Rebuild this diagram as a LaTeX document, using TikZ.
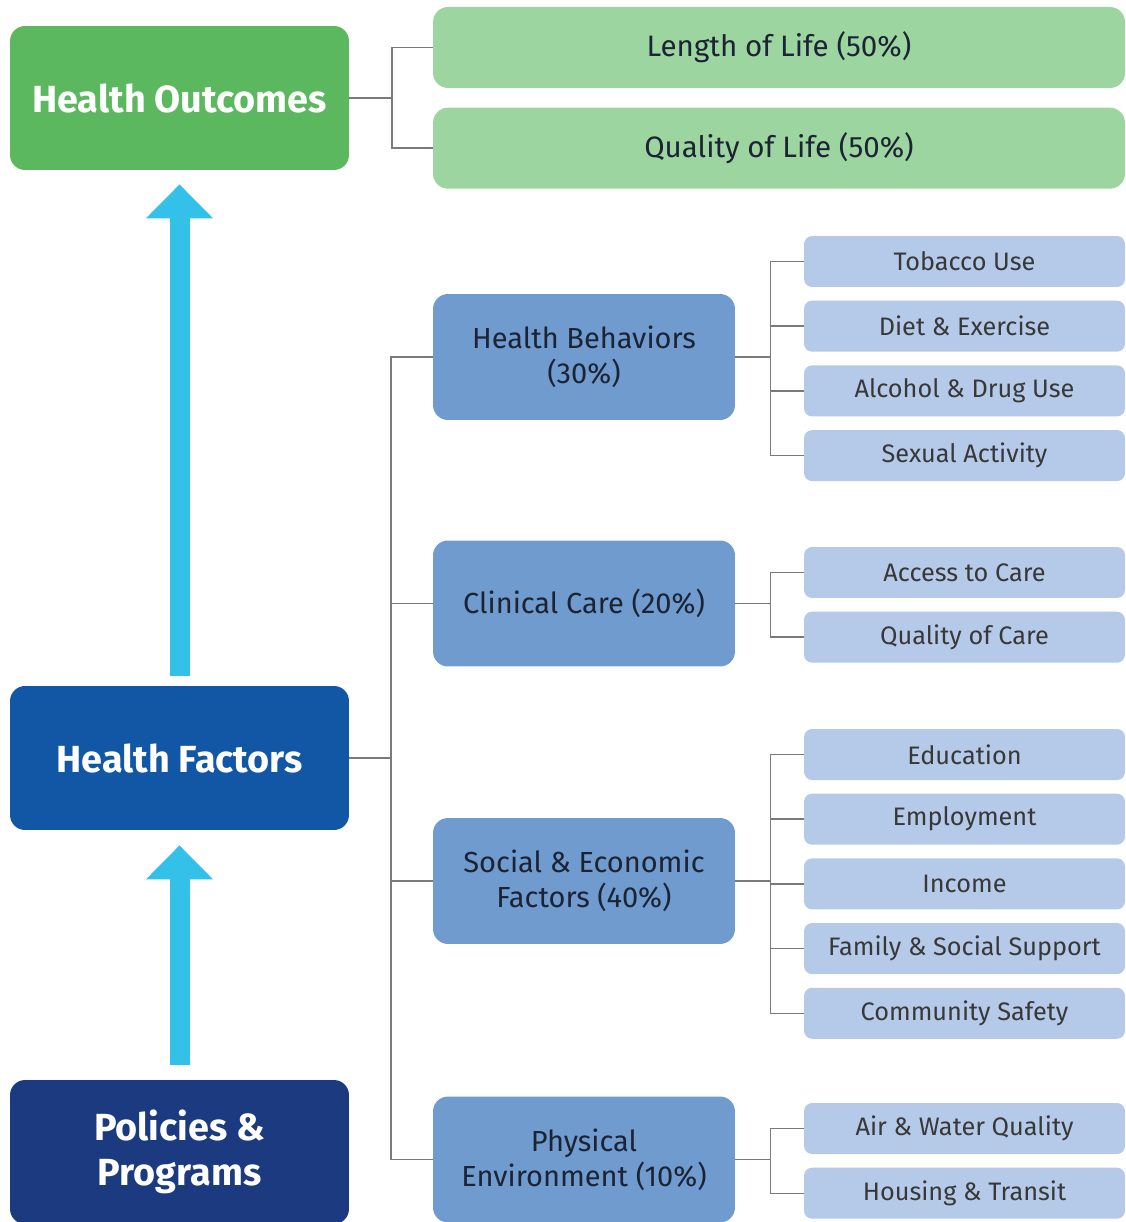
\documentclass[tikz,border=0pt]{standalone}
\usepackage{fontspec}
\setmainfont{Fira Sans}
\usetikzlibrary{arrows.meta,positioning}
\definecolor{OutGreen}{HTML}{5CB85F}
\definecolor{LightGreen}{HTML}{9DD5A0}
\definecolor{FactorBlue}{HTML}{1157A6}
\definecolor{PolicyNavy}{HTML}{1B3A80}
\definecolor{MidBlue}{HTML}{6F9BCF}
\definecolor{PaleBlue}{HTML}{B5CAE8}
\definecolor{ArrowCyan}{HTML}{33C1E9}
\definecolor{LinkGrey}{HTML}{7A7A7A}
\definecolor{InkDark}{HTML}{1C2333}

\begin{document}
\begin{tikzpicture}[
  x=0.02cm,y=-0.02cm,
  every node/.style={align=center,inner sep=0pt},
  big/.style={rounded corners=3mm,fill=#1,text=white,minimum width=6.78cm,minimum height=2.88cm,font=\fontsize{21.5}{25.5}\selectfont\bfseries},
  outbox/.style={rounded corners=3mm,fill=LightGreen,text=InkDark,minimum width=13.84cm,minimum height=1.62cm,font=\fontsize{16.8}{19}\selectfont},
  factor/.style={rounded corners=3mm,fill=MidBlue,text=InkDark,minimum width=6.04cm,minimum height=2.52cm,font=\fontsize{16.5}{20}\selectfont},
  leaf/.style={rounded corners=1.6mm,fill=PaleBlue,text=black!78,minimum width=6.42cm,minimum height=1.02cm,font=\fontsize{14.4}{17}\selectfont},
  link/.style={draw=LinkGrey,line width=0.8pt},
  uparrow/.style={-{Triangle[width=1.3cm,length=0.68cm]},line width=0.4cm,draw=ArrowCyan}
]
\useasboundingbox (0,0) rectangle (1125,1222);

% left column
\node[big=OutGreen] (HO) at (179.5,98) {Health Outcomes};
\node[big=FactorBlue] (HF) at (179.5,758) {Health Factors};
\node[big=PolicyNavy] (PP) at (179.5,1152) {Policies \&\\Programs};

\draw[uparrow,shorten <=0.2cm,shorten >=0.28cm] (HF) -- (HO);
\draw[uparrow,shorten <=0.3cm,shorten >=0.3cm] (PP) -- (HF);

% outcomes
\node[outbox] (LoL) at (779,47.5) {Length of Life (50\%)};
\node[outbox,below=0.38cm of LoL] (QoL) {Quality of Life (50\%)};

% factors
\node[factor] (HB) at (584,357) {Health Behaviors\\(30\%)};
\node[factor] (CC) at (584,603.5) {Clinical Care (20\%)};
\node[factor] (SE) at (584,881) {Social \& Economic\\Factors (40\%)};
\node[factor] (PE) at (584,1159.5) {Physical\\Environment (10\%)};

% behaviours
\node[leaf] (tob) at (964.5,261.5) {Tobacco Use};
\node[leaf,below=0.26cm of tob] (diet) {Diet \& Exercise};
\node[leaf,below=0.26cm of diet] (drug) {Alcohol \& Drug Use};
\node[leaf,below=0.26cm of drug] (sex) {Sexual Activity};

% clinical
\node[leaf] (access) at (964.5,572.5) {Access to Care};
\node[leaf,below=0.26cm of access] (qcare) {Quality of Care};

% social and economic
\node[leaf] (edu) at (964.5,754.5) {Education};
\node[leaf,below=0.26cm of edu] (emp) {Employment};
\node[leaf,below=0.26cm of emp] (inc) {Income};
\node[leaf,below=0.26cm of inc] (fam) {Family \& Social Support};
\node[leaf,below=0.26cm of fam] (safe) {Community Safety};

% physical environment
\node[leaf] (air) at (964.5,1128.5) {Air \& Water Quality};
\node[leaf,below=0.26cm of air] (house) {Housing \& Transit};

% connectors
\coordinate (hoj) at (392,98);
\draw[link] (HO) -- (hoj);
\draw[link] (hoj) |- (LoL);
\draw[link] (hoj) |- (QoL);

\coordinate (hfj) at (391,758);
\draw[link] (HF) -- (hfj);
\foreach \f in {HB,CC,SE,PE} \draw[link] (hfj) |- (\f);

\coordinate[right=0.7cm of HB.east] (hbj);
\draw[link] (HB) -- (hbj);
\foreach \s in {tob,diet,drug,sex} \draw[link] (hbj) |- (\s);

\coordinate[right=0.7cm of CC.east] (ccj);
\draw[link] (CC) -- (ccj);
\foreach \s in {access,qcare} \draw[link] (ccj) |- (\s);

\coordinate[right=0.7cm of SE.east] (sej);
\draw[link] (SE) -- (sej);
\foreach \s in {edu,emp,inc,fam,safe} \draw[link] (sej) |- (\s);

\coordinate[right=0.7cm of PE.east] (pej);
\draw[link] (PE) -- (pej);
\foreach \s in {air,house} \draw[link] (pej) |- (\s);
\end{tikzpicture}
\end{document}
